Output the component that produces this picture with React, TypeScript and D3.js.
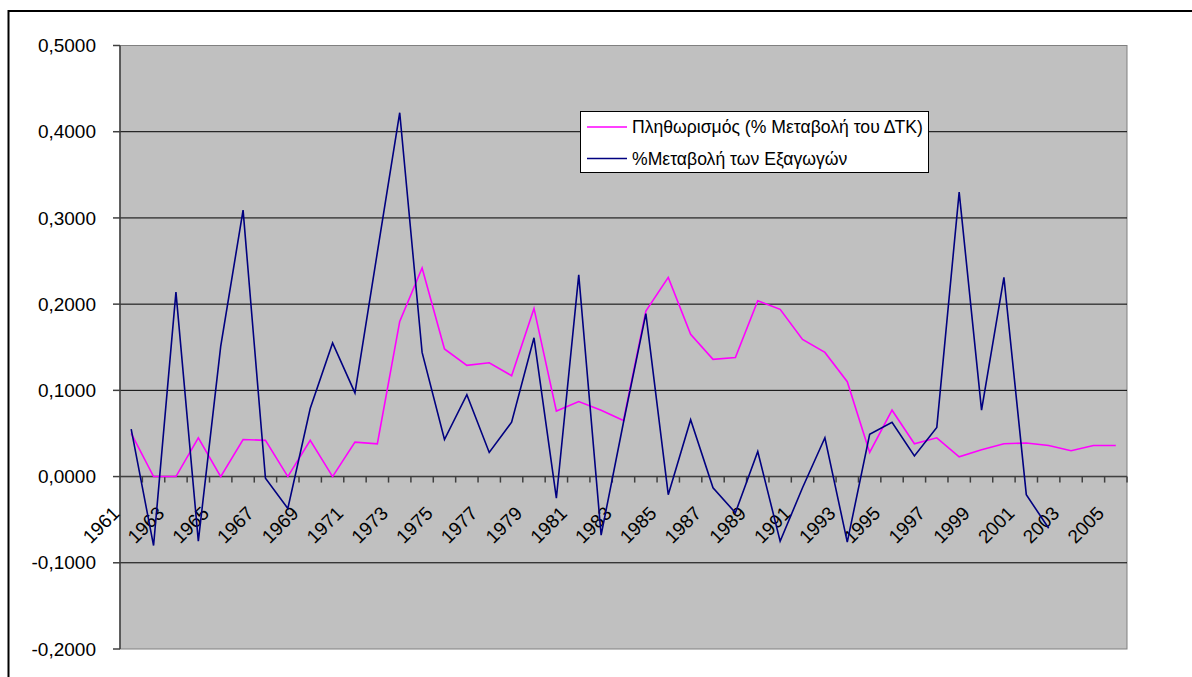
import React from 'react';
import * as d3 from 'd3';

// years on the category axis
const years: number[] = d3.range(1961, 2006);

// Πληθωρισμός (% Μεταβολή του ΔΤΚ), 1961-2005
const inflation: number[] = [
  0.05, 0.0, 0.0, 0.045, 0.0, 0.043, 0.042, 0.0, 0.042, 0.0,
  0.04, 0.038, 0.18, 0.242, 0.148, 0.129, 0.132, 0.117, 0.195, 0.076,
  0.087, 0.077, 0.065, 0.192, 0.231, 0.165, 0.136, 0.138, 0.204, 0.194,
  0.159, 0.144, 0.11, 0.028, 0.077, 0.038, 0.045, 0.023, 0.031, 0.038,
  0.039, 0.036, 0.03, 0.036, 0.036,
];

// %Μεταβολή των Εξαγωγών, 1961-2002
const exportsChange: number[] = [
  0.055, -0.08, 0.214, -0.075, 0.151, 0.309, -0.002, -0.037, 0.079, 0.155,
  0.097, 0.26, 0.422, 0.144, 0.043, 0.095, 0.028, 0.063, 0.161, -0.025,
  0.234, -0.068, 0.063, 0.189, -0.021, 0.066, -0.013, -0.042, 0.029, -0.075,
  -0.013, 0.045, -0.076, 0.049, 0.063, 0.024, 0.057, 0.33, 0.077, 0.231,
  -0.021, -0.06,
];

const yTicks: number[] = [-0.2, -0.1, 0, 0.1, 0.2, 0.3, 0.4, 0.5];

const seriesNames: string[] = [
  'Πληθωρισμός (% Μεταβολή του ΔΤΚ)',
  '%Μεταβολή των Εξαγωγών',
];
const seriesColors: string[] = ['#FF00FF', '#000080'];

const font = '"Liberation Sans", Arial, sans-serif';

const fmt = d3
  .formatLocale({ decimal: ',', thousands: '.', grouping: [3], currency: ['', ''], minus: '-' })
  .format('.4f');

const App = () => {
  const left = 120;
  const right = 1127;
  const top = 45.5;
  const bottom = 649;

  const x = d3.scaleBand<number>().domain(years).range([left, right]);
  const y = d3.scaleLinear().domain([-0.2, 0.5]).range([bottom, top]);
  const cx = (yr: number) => (x(yr) as number) + x.bandwidth() / 2;

  const line = d3
    .line<number>()
    .x((_, i) => cx(years[i]))
    .y((d) => y(d));

  const series = [inflation, exportsChange];
  const y0 = y(0);

  return (
    <svg
      width={1192}
      height={677}
      style={{ position: 'absolute', left: 0, top: 0 }}
      fontFamily={font}
    >
      <rect x={0} y={0} width={1192} height={677} fill="#fff" />
      <rect x={8.5} y={11} width={1400} height={900} fill="#fff" stroke="#000" strokeWidth={2} />

      {/* plot area */}
      <rect x={left} y={top} width={right - left} height={bottom - top} fill="#C0C0C0" stroke="#808080" strokeWidth={1} />

      {/* gridlines */}
      {yTicks.slice(1, -1).map((t) => (
        <line key={t} x1={left} x2={right} y1={y(t)} y2={y(t)} stroke="#000" strokeWidth={1} />
      ))}
      <line x1={left} x2={right} y1={top} y2={top} stroke="#808080" />

      {/* y axis */}
      <line x1={left} x2={left} y1={top} y2={bottom} stroke="#404040" strokeWidth={1.5} />
      {yTicks.map((t) => (
        <g key={t}>
          <line x1={113} x2={left} y1={y(t)} y2={y(t)} stroke="#404040" strokeWidth={1.5} />
          <text x={96} y={y(t)} dy="0.35em" textAnchor="end" fontSize={19} fill="#000">
            {fmt(t)}
          </text>
        </g>
      ))}

      {/* x axis at zero */}
      <line x1={left} x2={right} y1={y0} y2={y0} stroke="#404040" strokeWidth={1.5} />
      {years.map((yr) => (
        <line
          key={yr}
          x1={(x(yr) as number) + x.bandwidth()}
          x2={(x(yr) as number) + x.bandwidth()}
          y1={y0}
          y2={y0 + 6}
          stroke="#404040"
          strokeWidth={1.5}
        />
      ))}
      {years
        .filter((_, i) => i % 2 === 0)
        .map((yr) => (
          <text
            key={yr}
            transform={`translate(${cx(yr) - 10.5},${y0 + 38}) rotate(-45)`}
            textAnchor="end"
            fontSize={19}
            fill="#000"
          >
            {yr}
          </text>
        ))}

      {/* lines */}
      {series.map((s, k) => (
        <path key={k} d={line(s) || ''} fill="none" stroke={seriesColors[k]} strokeWidth={1.6} />
      ))}

      {/* legend */}
      <rect x={580.5} y={111.5} width={348} height={61} fill="#fff" stroke="#000" strokeWidth={1} />
      {seriesNames.map((n, k) => {
        const ly = 127 + k * 31.5;
        return (
          <g key={n}>
            <line x1={587} x2={627} y1={ly} y2={ly} stroke={seriesColors[k]} strokeWidth={1.6} />
            <text x={632} y={ly} dy="0.35em" fontSize={17.6} fill="#000">
              {n}
            </text>
          </g>
        );
      })}
    </svg>
  );
};

export default App;
